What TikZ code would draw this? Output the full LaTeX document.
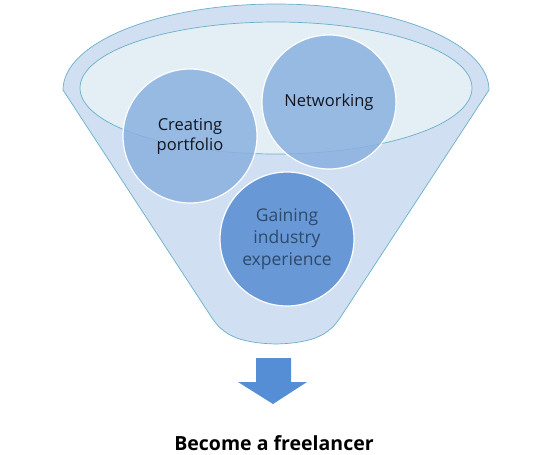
\documentclass[tikz,border=0pt]{standalone}
\usepackage{fontspec}
\setmainfont{Open Sans}
\usetikzlibrary{positioning}

\definecolor{funnelfill}{HTML}{D0DFF2}
\definecolor{funnelline}{HTML}{6BB0C8}
\definecolor{rimfill}{HTML}{E3EEF5}
\definecolor{bubble}{HTML}{8AB1E0}
\definecolor{bubbledark}{HTML}{6898D6}
\definecolor{arrowblue}{HTML}{558ED5}
\definecolor{textdark}{HTML}{111520}
\definecolor{textblue}{HTML}{2E4A6C}

\tikzset{
  bubblestyle/.style={circle, draw=white, line width=1.2pt, fill=bubble, fill opacity=0.85, text opacity=1, minimum size=134pt, inner sep=0pt, align=center, font=\fontsize{16.5}{21}\selectfont, text=textdark}
}

\begin{document}
\begin{tikzpicture}[x=1pt, y=-1pt]
    \useasboundingbox (0, 0) rectangle (542, 455);
    % funnel body
    \draw [fill=funnelfill, draw=funnelline, line width=0.7pt] (63, 90) arc [start angle=180, end angle=0, x radius=213pt, y radius=86pt]
        -- (340, 318) .. controls (329, 334) and (315, 343) .. (276, 344) .. controls (237, 343) and (223, 334) .. (212, 318) -- cycle;
    \draw [fill=rimfill, draw=funnelline, line width=0.7pt] (276, 88) ellipse [x radius=196pt, y radius=66pt];
    % bubbles
    \node (portfolio) [bubblestyle] at (190, 136) {Creating\\[-1pt]portfolio};
    \node (network) [bubblestyle] at (329, 102) {Networking};
    \node (experience) [bubblestyle, fill=bubbledark, fill opacity=1, text=textblue, font=\fontsize{17.5}{22}\selectfont] at (287, 239) {Gaining\\industry\\experience};
    % arrow and result
    \fill [arrowblue] (256, 358) -- (291, 358) -- (291, 382) -- (307, 382) -- (273, 404) -- (238, 382) -- (256, 382) -- cycle;
    \node (goal) [anchor=base, font=\fontsize{19.5}{24}\selectfont\bfseries] at (274, 450) {Become a freelancer};
\end{tikzpicture}
\end{document}
